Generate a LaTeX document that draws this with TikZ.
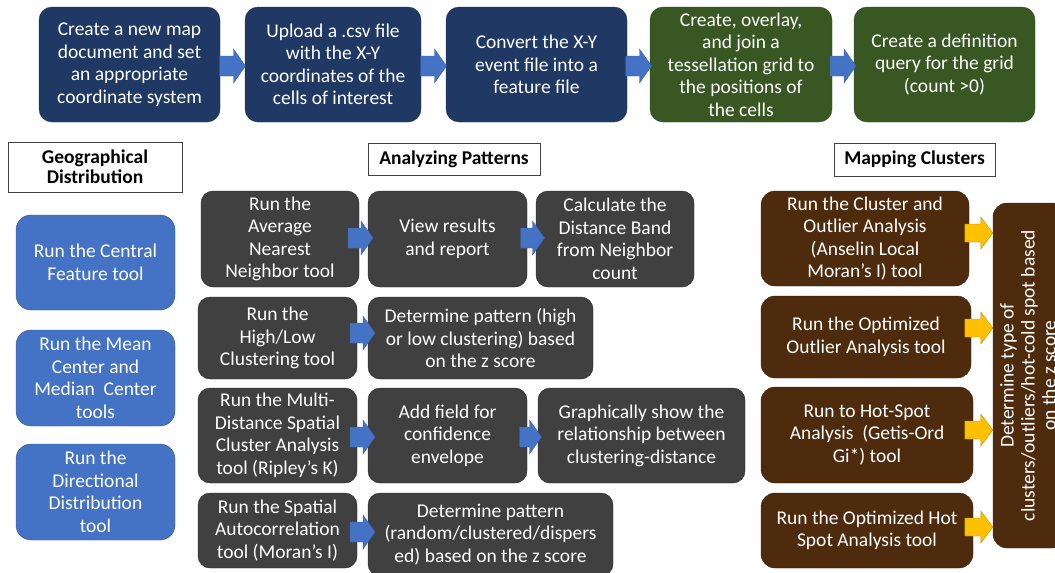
\documentclass[tikz,border=0pt]{standalone}
\usepackage{fontspec}
\setmainfont{Carlito}
\usetikzlibrary{calc}
\definecolor{navy}{HTML}{203864}
\definecolor{dgreen}{HTML}{385723}
\definecolor{mblue}{HTML}{4472C4}
\definecolor{dgray}{HTML}{404040}
\definecolor{brown}{HTML}{4F2B0E}
\definecolor{amber}{HTML}{FFC000}
\tikzset{
  box/.style={rounded corners=13pt, align=center, text=white, inner sep=1pt,
    font=\fontsize{19.5}{22.5}\selectfont},
  navybox/.style={box, fill=navy, draw=navy!85!black},
  greenbox/.style={box, fill=dgreen, draw=dgreen!85!black},
  bluebox/.style={box, fill=mblue, draw=mblue!75!black, rounded corners=15pt},
  graybox/.style={box, fill=dgray, draw=black!85, rounded corners=12pt},
  brownbox/.style={box, fill=brown, draw=brown!80!black, rounded corners=14pt},
  head/.style={draw=dgray, fill=white, align=center, inner sep=1pt,
    font=\bfseries\fontsize{19.5}{20}\selectfont},
  bluearr/.style={fill=mblue, draw=mblue!85!black, line width=0.4pt},
  yellowarr/.style={fill=amber, draw=amber!75!black, line width=0.4pt},
  pics/barrow/.style n args={2}{code={
    \path[#2] (-#1/2,-10) -- ({#1/2-12},-10) -- ({#1/2-12},-17) -- ({#1/2},0)
      -- ({#1/2-12},17) -- ({#1/2-12},10) -- (-#1/2,10) -- cycle;}},
  pics/yarrow/.style n args={2}{code={
    \path[#2] (-#1/2,-9) -- ({#1/2-12},-9) -- ({#1/2-12},-16) -- ({#1/2},0)
      -- ({#1/2-12},16) -- ({#1/2-12},9) -- (-#1/2,9) -- cycle;}},
}
\begin{document}
\begin{tikzpicture}[x=1pt,y=-1pt]
\useasboundingbox (0,0) rectangle (1055,573);
\clip (0,0) rectangle (1055,573);

% top row
\node[navybox, minimum width=181pt, minimum height=115pt] (t1) at (129.5,64.5)
  {Create a new map\\document and set\\an appropriate\\coordinate system};
\node[navybox, minimum width=176pt, minimum height=115pt] (t2) at (333,64.5)
  {Upload a .csv file\\with the X-Y\\coordinates of the\\cells of interest};
\node[navybox, minimum width=181pt, minimum height=115pt] (t3) at (536.5,64.5)
  {Convert the X-Y\\event file into a\\feature file};
\node[greenbox, minimum width=182pt, minimum height=115pt] (t4) at (741,64.5)
  {Create, overlay,\\and join a\\tessellation grid to\\the positions of\\the cells};
\node[greenbox, minimum width=181pt, minimum height=115pt] (t5) at (944.5,64.5)
  {Create a definition\\query for the grid\\(count >0)};

% headings
\node[head, minimum width=174pt, minimum height=50pt] (h1) at (95,167)
  {Geographical\\Distribution};
\node[head, minimum width=172pt, minimum height=32pt] (h2) at (454,159)
  {Analyzing Patterns};
\node[head, minimum width=161pt, minimum height=33pt] (h3) at (914.5,159.5)
  {Mapping Clusters};

% geographical distribution
\node[bluebox, minimum width=159pt, minimum height=95pt] (g1) at (95.5,262.5)
  {Run the Central\\Feature tool};
\node[bluebox, minimum width=159pt, minimum height=96pt] (g2) at (95.5,378)
  {Run the Mean\\Center and\\Median~ Center\\tools};
\node[bluebox, minimum width=159pt, minimum height=96pt] (g3) at (95.5,492)
  {Run the\\Directional\\Distribution\\tool};

% analyzing patterns
\node[graybox, minimum width=158pt, minimum height=96pt] (a1) at (280,239)
  {Run the\\Average\\Nearest\\Neighbor tool};
\node[graybox, minimum width=159pt, minimum height=96pt] (a2) at (447.5,239)
  {View results\\and report};
\node[graybox, minimum width=158pt, minimum height=96pt] (a3) at (615,239)
  {Calculate the\\Distance Band\\from Neighbor\\count};
\node[graybox, minimum width=159pt, minimum height=82pt] (b1) at (277.5,338)
  {Run the\\High/Low\\Clustering tool};
\node[graybox, minimum width=225pt, minimum height=82pt] (b2) at (480.5,338)
  {Determine pattern (high\\or low clustering) based\\on the z score};
\node[graybox, minimum width=159pt, minimum height=95pt] (c1) at (277.5,435.5)
  {Run the Multi-\\Distance Spatial\\Cluster Analysis\\tool (Ripley’s K)};
\node[graybox, minimum width=159pt, minimum height=95pt] (c2) at (447.5,435.5)
  {Add field for\\confidence\\envelope};
\node[graybox, minimum width=207pt, minimum height=95pt] (c3) at (641.5,435.5)
  {Graphically show the\\relationship between\\clustering-distance};
\node[graybox, minimum width=159pt, minimum height=75pt] (d1) at (277.5,530.5)
  {Run the Spatial\\Autocorrelation\\tool (Moran’s I)};
\node[graybox, minimum width=245pt, minimum height=83pt] (d2) at (490.5,534.5)
  {Determine pattern\\(random/clustered/dispers\\ed) based on the z score};

% mapping clusters
\node[brownbox, minimum width=208pt, minimum height=95pt] (m1) at (865,238.5)
  {Run the Cluster and\\Outlier Analysis\\(Anselin Local\\Moran's I) tool};
\node[brownbox, minimum width=210pt, minimum height=82pt] (m2) at (866,337)
  {Run the Optimized\\Outlier Analysis tool};
\node[brownbox, minimum width=212pt, minimum height=96pt] (m3) at (867,435)
  {Run to Hot-Spot\\Analysis~ (Getis-Ord\\Gi*) tool};
\node[brownbox, minimum width=212pt, minimum height=75pt] (m4) at (867,530.5)
  {Run the Optimized Hot\\Spot Analysis tool};
\node[brownbox, minimum width=73pt, minimum height=345pt] (T) at (1029.5,375.5) {};
\node[box, rotate=90, font=\fontsize{19.5}{21}\selectfont] (Tl) at (1028,375.5)
  {Determine type of\\clusters/outliers/hot-cold spot based\\on the z score};

% blue block arrows
\pic at ($(t1.east)!0.5!(t2.west)+(0,1.5)$) {barrow={26}{bluearr}};
\pic at ($(t2.east)!0.5!(t3.west)+(0,1.5)$) {barrow={26}{bluearr}};
\pic at ($(t3.east)!0.5!(t4.west)+(0,1.5)$) {barrow={26}{bluearr}};
\pic at ($(t4.east)!0.5!(t5.west)+(0,1.5)$) {barrow={26}{bluearr}};
\pic at ($(a1.east)!0.5!(a2.west)+(-3,-1)$) {barrow={25}{bluearr}};
\pic at ($(a2.east)!0.5!(a3.west)+(1,-1)$) {barrow={24}{bluearr}};
\pic at ($(b1.east)!0.5!(b2.west)+(0,-5)$) {barrow={25}{bluearr}};
\pic at ($(c1.east)!0.5!(c2.west)+(0,1.5)$) {barrow={25}{bluearr}};
\pic at ($(c2.east)!0.5!(c3.west)+(-2,1.5)$) {barrow={22}{bluearr}};
\pic at ($(d1.east)!0.5!(d1.east -| d2.west)+(0,1.5)$) {barrow={25}{bluearr}};

% yellow block arrows
\pic at ($(m1.east -| T.west)+(-14,-5.5)$) {yarrow={28}{yellowarr}};
\pic at ($(m2.east -| T.west)+(-14,-9)$) {yarrow={28}{yellowarr}};
\pic at ($(m3.east -| T.west)+(-14,-5)$) {yarrow={28}{yellowarr}};
\pic at ($(m4.east -| T.west)+(-14,-3.5)$) {yarrow={28}{yellowarr}};
\end{tikzpicture}
\end{document}
